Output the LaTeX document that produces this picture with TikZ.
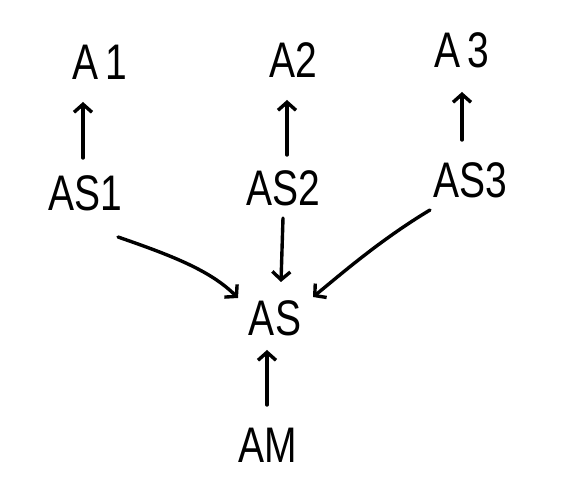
\documentclass[tikz,border=0pt]{standalone}
\usepackage{fontspec}
\setmainfont{Liberation Sans}
\usetikzlibrary{arrows.meta}
\begin{document}
\begin{tikzpicture}[x=1pt,y=-1pt,
  lbl/.style={inner sep=0pt,font=\fontsize{50}{54}\selectfont},
  conn/.style={line width=3.4pt,line cap=round,-{Straight Barb[length=8pt,width=18pt,line width=3.4pt]}}]
\useasboundingbox[fill=white] (0,0) rectangle (566,478);
\newcommand{\hw}[1]{\scalebox{0.78}[1]{#1}}
\node[lbl] (a1) at (100,62) {\hw{A\,1}};
\node[lbl] (a2) at (293,60) {\hw{A2}};
\node[lbl] (a3) at (462,50) {\hw{A\,3}};
\node[lbl] (as1) at (85,193) {\hw{AS1}};
\node[lbl] (as2) at (283,188) {\hw{AS2}};
\node[lbl] (as3) at (470,180) {\hw{AS3}};
\node[lbl] (as) at (275,318) {\hw{AS}};
\node[lbl] (am) at (268,445) {\hw{AM}};
\coordinate (p1) at (83,158); \coordinate (q1) at (83,102);
\coordinate (p2) at (287,155); \coordinate (q2) at (287,100);
\coordinate (p3) at (462,140); \coordinate (q3) at (462,92);
\coordinate (s1) at (118,237); \coordinate (t1) at (238,298);
\coordinate (s2) at (283,218); \coordinate (t2) at (281,282);
\coordinate (s3) at (430,210); \coordinate (t3) at (313,297);
\coordinate (s4) at (267,405); \coordinate (t4) at (267,350);
\draw[conn] (p1) -- (q1);
\draw[conn] (p2) -- (q2);
\draw[conn] (p3) -- (q3);
\draw[conn] (s1) .. controls (170,255) and (210,270) .. (t1);
\draw[conn] (s2) -- (t2);
\draw[conn] (s3) .. controls (380,240) and (340,275) .. (t3);
\draw[conn] (s4) -- (t4);
\end{tikzpicture}
\end{document}
